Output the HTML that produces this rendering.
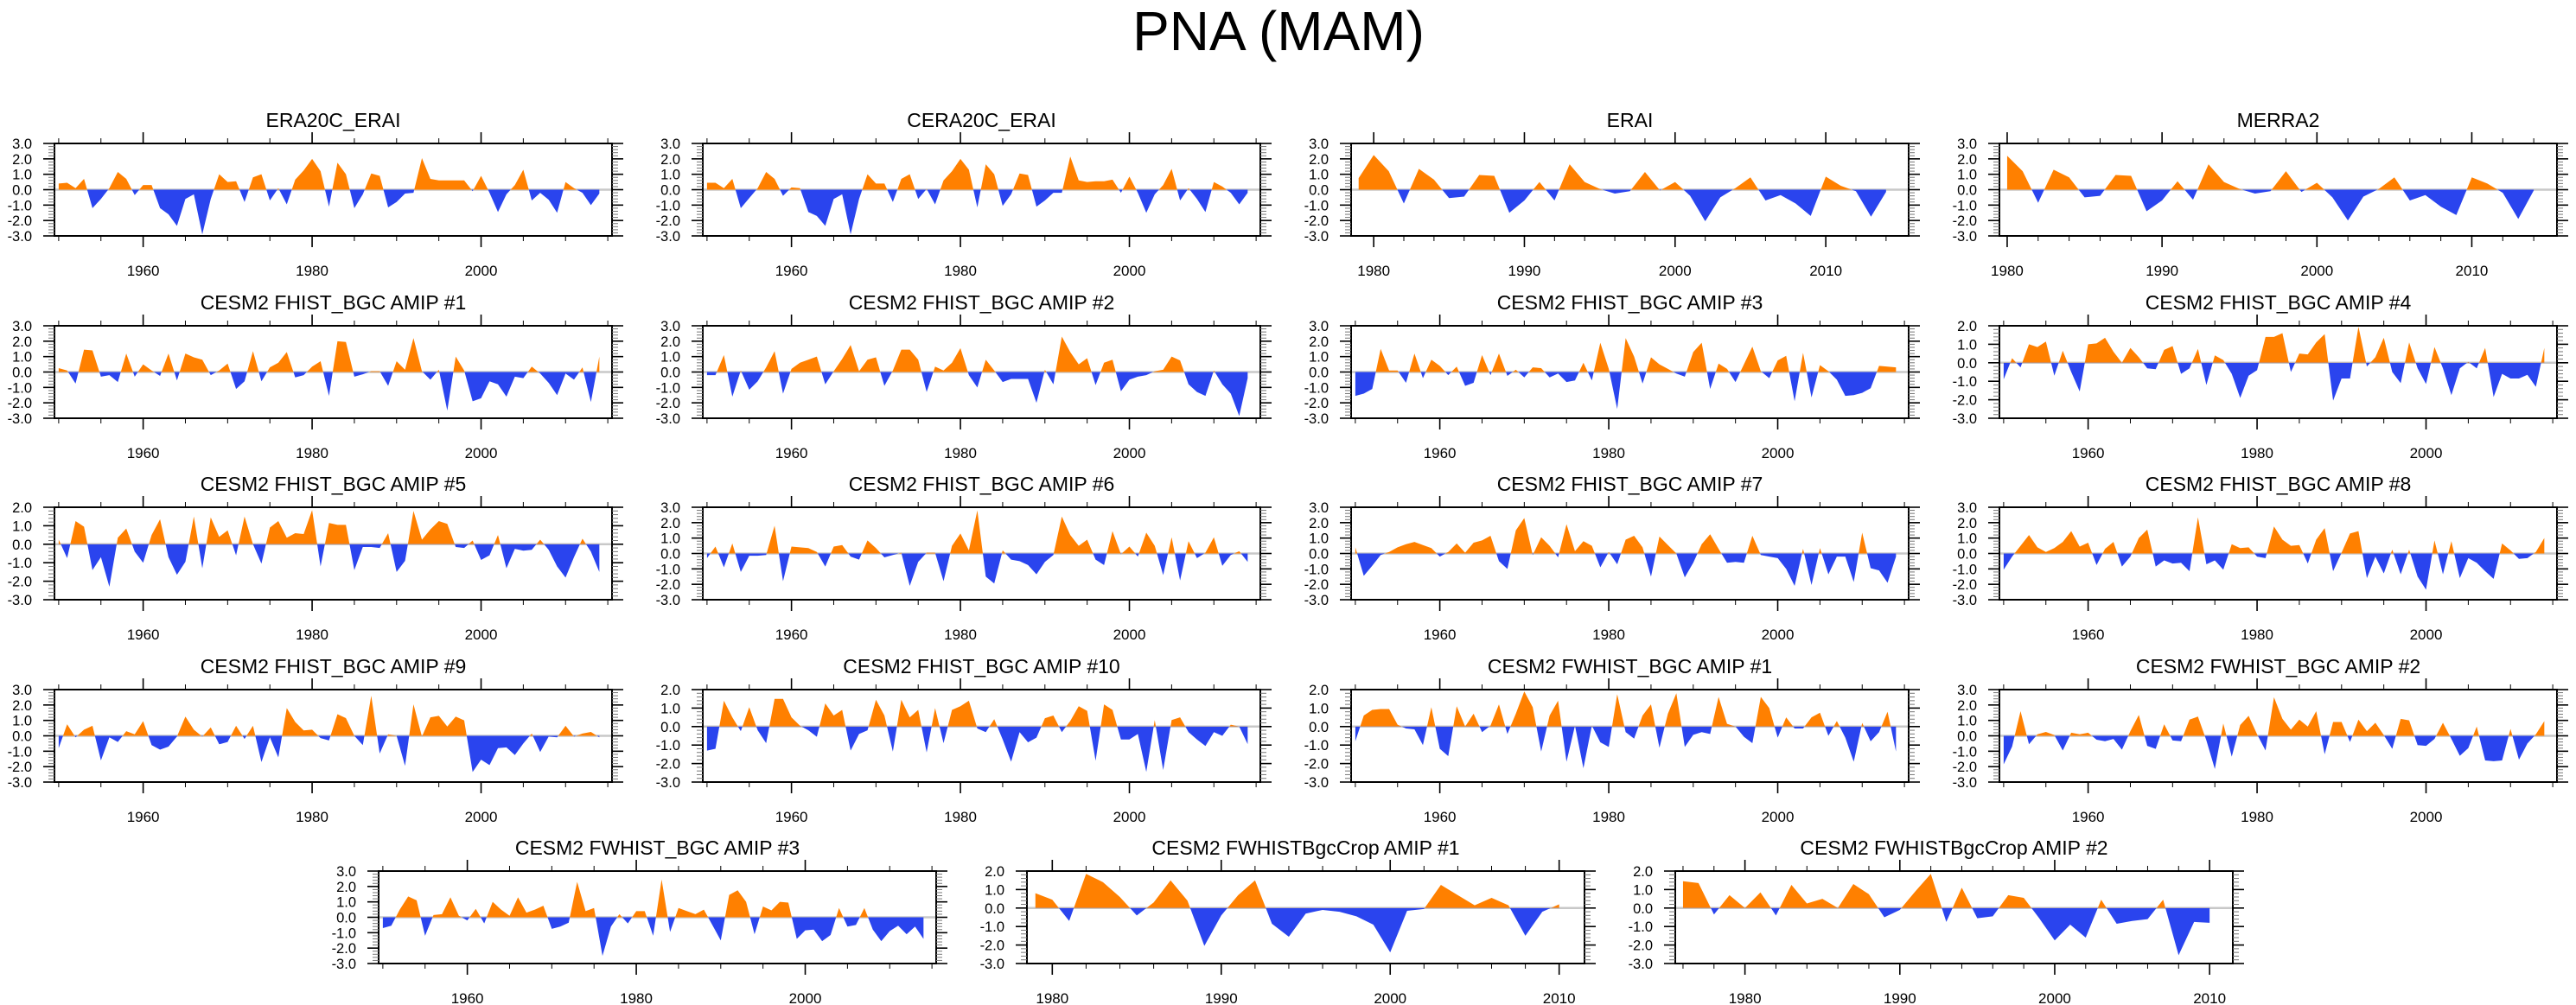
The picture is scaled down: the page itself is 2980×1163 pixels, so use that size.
<!DOCTYPE html>
<html><head><meta charset="utf-8"><title>PNA (MAM)</title>
<style>
html,body{margin:0;padding:0;background:#fff;}
svg{display:block;font-family:"Liberation Sans",Arial,sans-serif;}
</style></head>
<body>
<svg id="fig" width="2980" height="1163" viewBox="0 0 2980 1163" xmlns="http://www.w3.org/2000/svg">
<rect x="0" y="0" width="2980" height="1163" fill="#fff"/>
<text x="1479" y="58" font-size="64" text-anchor="middle" fill="#000">PNA (MAM)</text>
</svg>
<script>
// ---- data (one array per panel) ----
const era20cErai = [0.4,0.45,0.1,0.7,-1.2,-0.6,0.1,1.15,0.7,-0.35,0.3,0.3,-1.2,-1.6,-2.35,-0.6,-0.3,-2.9,-0.6,1.0,0.5,0.55,-0.8,0.8,1.0,-0.7,0.1,-0.95,0.65,1.25,2.0,1.2,-1.1,1.75,1.0,-1.2,-0.3,1.05,0.9,-1.15,-0.8,-0.25,-0.2,2.05,0.7,0.6,0.6,0.6,0.6,-0.1,0.9,-0.2,-1.45,-0.3,0.3,1.3,-0.7,-0.2,-0.65,-1.5,0.5,0.1,-0.2,-1.0,-0.25];
const cera20cErai = [0.45,0.45,0.1,0.7,-1.2,-0.55,0.1,1.15,0.7,-0.4,0.15,0.1,-1.45,-1.7,-2.35,-0.6,-0.3,-2.9,-0.6,1.0,0.4,0.4,-0.8,0.7,1.0,-0.6,0.05,-0.95,0.6,1.2,2.0,1.3,-1.15,1.65,1.0,-1.05,-0.3,1.05,0.95,-1.1,-0.7,-0.2,-0.2,2.15,0.6,0.5,0.55,0.55,0.65,-0.2,0.85,-0.2,-1.5,-0.3,0.3,1.35,-0.7,0.1,-0.6,-1.45,0.5,0.2,-0.2,-0.95,-0.2];
const erai = [0.75,2.25,1.2,-0.9,1.35,0.65,-0.55,-0.45,0.95,0.9,-1.5,-0.7,0.5,-0.7,1.65,0.5,0.05,-0.25,-0.1,1.15,-0.05,0.5,-0.4,-2.05,-0.5,0.1,0.8,-0.7,-0.35,-0.9,-1.7,0.85,0.25,-0.1,-1.75,-0.15];
const merra2 = [2.2,1.2,-0.85,1.3,0.8,-0.5,-0.4,0.95,0.9,-1.4,-0.7,0.55,-0.65,1.65,0.5,0.05,-0.25,-0.1,1.2,-0.15,0.45,-0.5,-2.0,-0.45,0.05,0.8,-0.7,-0.35,-1.1,-1.65,0.8,0.4,-0.2,-1.9,-0.05];
const fhist1 = [0.25,0.1,-0.75,1.45,1.4,-0.3,-0.2,-0.65,1.2,-0.3,0.5,0.1,-0.25,1.2,-0.55,1.2,0.95,0.8,-0.2,0.1,0.55,-1.1,-0.6,1.35,-0.6,0.3,0.6,1.3,-0.35,-0.2,0.35,0.7,-1.55,2.0,1.95,-0.3,-0.15,0.05,0.05,-0.9,0.7,0.15,2.2,0.05,-0.5,0.15,-2.5,1.0,0.1,-1.9,-1.7,-0.6,-0.8,-1.6,-0.3,-0.4,0.35,-0.1,-0.7,-1.5,-0.1,-0.5,0.3,-1.95,1.0];
const fhist2 = [-0.2,-0.2,1.1,-1.6,0.1,-1.15,-0.6,0.3,1.35,-1.4,0.2,0.6,0.8,1.0,-0.8,0.05,0.85,1.75,0.05,0.8,0.95,-0.9,0.1,1.45,1.45,0.8,-1.3,0.35,0.1,0.6,1.55,-0.2,-1.0,0.8,0.1,-0.65,-0.45,-0.45,-0.45,-2.0,0.15,-0.8,2.3,1.3,0.5,0.9,-0.85,0.6,0.8,-1.25,-0.5,-0.3,-0.2,0.05,0.15,1.0,0.75,-0.8,-1.3,-1.55,0.1,-0.8,-1.4,-2.85,-0.4];
const fhist3 = [-1.55,-1.4,-1.1,1.5,0.1,0.1,-0.7,1.2,-0.4,0.8,0.4,-0.2,0.35,-0.9,-0.7,1.1,-0.2,1.2,-0.25,0.15,-0.35,0.3,0.25,-0.35,-0.1,-0.65,-0.55,0.6,-0.55,1.9,0.2,-2.4,2.2,1.0,-0.75,0.95,0.5,0.2,-0.1,-0.3,1.3,1.9,-1.1,0.55,0.2,-0.65,0.5,1.65,0.05,-0.4,0.75,1.05,-1.9,1.25,-1.65,0.45,0.05,-0.5,-1.55,-1.5,-1.35,-1.05,0.4,0.35,0.3];
const fhist4 = [-0.9,0.25,-0.25,1.0,0.85,1.15,-0.7,0.65,-0.5,-1.55,1.0,1.05,1.35,0.6,0.0,0.8,0.3,-0.3,-0.35,0.7,0.9,-0.6,-0.3,0.75,-1.2,0.4,0.15,-0.6,-1.9,-0.7,-0.4,1.4,1.4,1.6,-0.5,0.5,0.45,1.1,1.55,-2.05,-0.85,-0.85,1.95,-0.2,0.3,1.35,-0.5,-1.1,1.1,-0.3,-1.15,0.85,-0.3,-1.75,-0.3,0.05,-0.3,0.8,-1.85,-0.6,-0.85,-0.85,-0.65,-1.3,0.8];
const fhist5 = [0.25,-0.75,1.25,0.95,-1.4,-0.7,-2.3,0.35,0.85,-0.4,-1.0,0.5,1.35,-0.7,-1.65,-0.95,1.5,-1.3,1.45,0.4,0.75,-0.6,1.5,0.0,-1.05,0.9,1.25,0.35,0.6,0.55,1.85,-1.2,1.15,1.05,1.05,-1.4,-0.15,-0.15,-0.2,0.6,-1.5,-0.9,1.8,0.25,0.8,1.25,1.1,-0.15,-0.2,0.2,-0.85,-0.6,0.5,-1.3,-0.25,-0.35,-0.3,0.25,-0.3,-1.2,-1.8,-0.7,0.3,-0.4,-1.5];
const fhist6 = [-0.3,0.45,-0.9,0.65,-1.2,-0.15,-0.15,-0.1,1.8,-1.8,0.45,0.4,0.35,0.1,-0.85,0.45,0.55,-0.2,-0.4,0.85,0.35,-0.25,-0.1,0.05,-2.1,-0.55,0.05,0.05,-1.8,0.5,1.3,0.2,2.8,-1.5,-1.95,0.2,-0.4,-0.5,-0.75,-1.35,-0.55,-0.1,2.4,1.2,0.5,0.9,-0.4,-0.75,1.45,-0.05,0.45,-0.2,1.35,0.5,-1.4,1.05,-1.75,0.8,-0.3,0.05,1.05,-0.8,-0.1,0.15,-0.55];
const fhist7 = [0.4,-1.45,-0.8,-0.1,0.1,0.4,0.6,0.75,0.55,0.35,-0.2,0.1,0.65,0.05,0.7,0.85,1.15,-0.5,-1.0,1.5,2.3,-0.1,1.05,0.5,-0.25,1.9,0.15,0.8,0.5,-0.9,0.1,-0.7,0.9,1.15,0.4,-1.5,1.1,0.55,0.0,-1.55,-0.6,0.6,1.25,0.3,-0.6,-0.55,-0.6,1.15,-0.1,-0.2,-0.3,-1.0,-2.1,0.3,-2.05,0.35,-1.35,-0.2,-0.2,-1.85,1.35,-0.95,-1.1,-1.9,-0.2];
const fhist8 = [-1.05,-0.2,0.5,1.2,0.4,0.1,0.35,0.75,1.45,0.45,0.7,-0.75,0.3,0.75,-0.85,-0.2,1.0,1.55,-0.85,-0.45,-0.65,-0.6,-1.15,2.35,-0.7,-0.45,-1.05,0.6,0.35,0.4,-0.2,-0.3,1.75,0.9,0.5,0.55,-0.65,0.9,1.65,-1.15,0.05,1.3,1.45,-1.6,-0.2,-1.3,0.25,-1.35,0.25,-1.5,-2.35,0.85,-1.35,0.8,-1.6,-0.3,-0.6,-1.15,-1.65,0.65,0.2,-0.35,-0.3,0.1,1.0];
const fhist9 = [-0.8,0.75,-0.1,0.4,0.65,-1.6,-0.1,-0.4,0.3,0.1,0.95,-0.6,-0.9,-0.7,-0.05,1.25,0.4,-0.05,0.55,-0.55,-0.4,0.65,-0.2,0.65,-1.7,-0.1,-1.4,1.8,0.9,0.35,0.4,-0.15,-0.3,1.4,1.15,0.0,-0.6,2.6,-1.15,0.1,0.0,-1.95,2.05,-0.05,1.2,1.3,0.6,1.25,1.0,-2.35,-1.55,-1.9,-0.8,-0.75,-1.25,-0.5,0.15,-1.05,-0.05,-0.1,0.65,-0.05,0.15,0.25,-0.1];
const fhist10 = [-1.3,-1.2,1.4,0.5,-0.25,1.05,-0.2,-0.9,1.5,1.5,0.5,0.05,-0.2,-0.55,1.25,0.6,0.9,-1.3,-0.4,-0.2,1.45,0.6,-1.35,1.45,0.5,0.9,-1.4,1.0,-0.9,0.9,1.1,1.4,-0.1,-0.3,0.4,-0.7,-1.9,-0.3,-0.85,-0.6,0.45,0.6,-0.3,0.3,1.1,0.85,-1.85,1.2,0.9,-0.7,-0.7,-0.4,-2.45,0.35,-2.35,0.35,0.5,-0.3,-0.7,-1.05,-0.3,-0.5,0.1,0.0,-0.95];
const fwhist1 = [-0.8,0.6,0.9,0.95,0.95,0.1,-0.1,-0.15,-1.0,1.05,-1.2,-1.6,1.1,0.0,0.7,-0.3,0.05,1.2,-0.4,0.7,1.9,1.05,-1.35,0.6,1.4,-1.9,0.05,-2.25,0.05,-0.85,-1.1,1.75,-0.3,-0.65,0.6,1.2,-1.15,0.7,1.8,-1.1,-0.45,-0.3,-0.4,1.6,0.15,0.0,-0.55,-0.9,1.6,1.0,-0.6,0.5,-0.1,-0.1,0.5,0.75,-0.5,0.3,-0.6,-1.9,0.2,-0.8,-0.3,0.8,-1.35];
const fwhist2 = [-1.85,-0.7,1.6,-0.55,0.1,0.25,0.05,-0.95,0.2,0.1,0.2,-0.25,-0.35,-0.2,-0.9,0.3,1.35,-0.65,-0.85,0.75,-0.3,-0.35,1.05,1.25,-0.3,-2.15,0.8,-1.35,0.7,1.3,0.1,-0.95,2.5,1.1,0.4,1.05,0.6,1.6,-1.2,0.9,0.9,-0.4,1.05,0.3,0.85,0.05,-0.85,1.1,1.0,-0.6,-0.65,-0.2,0.85,-0.2,-1.3,-0.8,0.6,-1.6,-1.65,-1.6,0.45,-1.55,-0.5,0.1,0.95];
const fwhist3 = [-0.7,-0.55,0.5,1.35,1.1,-1.2,0.15,0.2,1.3,0.1,-0.2,0.55,-0.4,1.0,0.5,0.1,1.3,0.3,0.5,0.75,-0.75,-0.6,-0.35,2.3,0.4,0.6,-2.5,-0.6,0.2,-0.4,0.4,0.4,-1.2,2.45,-0.95,0.6,0.4,0.2,0.5,-0.5,-1.5,1.45,1.75,1.0,-1.1,0.7,0.45,1.0,0.95,-1.4,-0.85,-0.8,-1.55,-1.15,0.6,-0.6,-0.5,0.6,-0.8,-1.55,-0.9,-0.55,-1.1,-0.6,-1.4];
const bgcCrop1 = [0.8,0.45,-0.7,1.85,1.4,0.6,-0.4,0.3,1.5,0.4,-2.05,-0.4,0.7,1.5,-0.85,-1.55,-0.3,-0.1,-0.2,-0.45,-0.9,-2.4,-0.15,-0.05,1.25,0.7,0.15,0.55,0.15,-1.5,-0.2,0.2];
const bgcCrop2 = [1.45,1.35,-0.35,0.7,0.0,0.85,-0.4,1.25,0.25,0.5,0.0,1.3,0.75,-0.5,-0.1,0.9,1.85,-0.75,1.1,-0.55,-0.45,0.7,0.55,-0.55,-1.75,-0.9,-1.6,0.45,-0.85,-0.7,-0.6,0.45,-2.55,-0.75,-0.8];

const panelTitles = ["ERA20C_ERAI","CERA20C_ERAI","ERAI","MERRA2",
 "CESM2 FHIST_BGC AMIP #1","CESM2 FHIST_BGC AMIP #2","CESM2 FHIST_BGC AMIP #3","CESM2 FHIST_BGC AMIP #4",
 "CESM2 FHIST_BGC AMIP #5","CESM2 FHIST_BGC AMIP #6","CESM2 FHIST_BGC AMIP #7","CESM2 FHIST_BGC AMIP #8",
 "CESM2 FHIST_BGC AMIP #9","CESM2 FHIST_BGC AMIP #10","CESM2 FWHIST_BGC AMIP #1","CESM2 FWHIST_BGC AMIP #2",
 "CESM2 FWHIST_BGC AMIP #3","CESM2 FWHISTBgcCrop AMIP #1","CESM2 FWHISTBgcCrop AMIP #2"];
const panelSeries = [era20cErai,cera20cErai,erai,merra2,fhist1,fhist2,fhist3,fhist4,fhist5,fhist6,fhist7,fhist8,fhist9,fhist10,fwhist1,fwhist2,fwhist3,bgcCrop1,bgcCrop2];
const startYears = [1950,1950,1979,1980,1950,1950,1950,1950,1950,1950,1950,1950,1950,1950,1950,1950,1950,1979,1976];
const yMaxValues = [3,3,3,3,3,3,3,2,2,3,3,3,3,2,2,3,3,2,2];
const yMinValue = -3;

// ---- layout ----
const NS="http://www.w3.org/2000/svg";
const svg=document.getElementById('fig');
const PW=645, PH=107;
const colLefts=[63,813,1563,2313], rowTops=[166,377,587,798,1008], row5Lefts=[438,1188,1938];

function mk(tag,attrs,parent){const e=document.createElementNS(NS,tag);for(const k in attrs)e.setAttribute(k,attrs[k]);(parent||svg).appendChild(e);return e;}

panelSeries.forEach((vals,i)=>{
  const row = i<16 ? Math.floor(i/4) : 4;
  const left = i<16 ? colLefts[i%4] : row5Lefts[i-16];
  const top = rowTops[row];
  const start=startYears[i], n=vals.length;
  const x0=start-0.5, x1=start+n-1+1.5;
  const yMax=yMaxValues[i], yMin=yMinValue;
  const xs=y=>left+(y-x0)/(x1-x0)*PW;
  const ys=v=>top+(yMax-v)/(yMax-yMin)*PH;
  const g=mk('g',{});
  
  

  const title=mk('text',{x:left+PW/2,y:top-19,'font-size':23,'text-anchor':'middle',fill:'#000'},g);
  title.textContent=panelTitles[i];
  
  

  const y0=ys(0);
  const zl=mk('line',{x1:left,x2:left+PW,y1:y0,y2:y0,stroke:'#c8c8c8','stroke-width':2.5},g);
  
  

  const cpA=mk('clipPath',{id:'ca'+i},g);
  mk('rect',{x:left,y:top,width:PW,height:y0-top},cpA);
  const cpB=mk('clipPath',{id:'cb'+i},g);
  mk('rect',{x:left,y:y0,width:PW,height:top+PH-y0},cpB);
  let d='M'+xs(start).toFixed(2)+','+y0.toFixed(2);
  vals.forEach((v,k)=>{d+=' L'+xs(start+k).toFixed(2)+','+ys(v).toFixed(2);});
  d+=' L'+xs(start+n-1).toFixed(2)+','+y0.toFixed(2)+' Z';
  const pos=mk('path',{d:d,fill:'#ff8000','clip-path':'url(#ca'+i+')'},g);
  
  
  const neg=mk('path',{d:d,fill:'#2a44ee','clip-path':'url(#cb'+i+')'},g);
  
  

  const box=mk('rect',{x:left,y:top,width:PW,height:PH,fill:'none',stroke:'#000','stroke-width':2},g);
  
  

  for(let t=yMin*5;t<=yMax*5;t++){
    const v=t/5, yy=ys(v), major=(t%5===0);
    const L=major?13:7, sw=major?1.6:1, col=major?'#000':'#777';
    mk('line',{x1:left-L,x2:left,y1:yy,y2:yy,stroke:col,'stroke-width':sw},g);
    mk('line',{x1:left+PW,x2:left+PW+L,y1:yy,y2:yy,stroke:col,'stroke-width':sw},g);
    if(major){
      const tl=mk('text',{x:left-26,y:yy+6,'font-size':16.5,'text-anchor':'end',fill:'#000'},g);
      tl.textContent=v.toFixed(1);
      
      
    }
  }
  const long=(x1-x0)>50;
  const minorStep=long?5:2, majorStep=long?20:10;
  for(let yr=Math.ceil(x0);yr<=x1;yr++){
    if(yr%minorStep!==0)continue;
    const xx=xs(yr), major=(yr%majorStep===0);
    const L=major?13:6;
    mk('line',{x1:xx,x2:xx,y1:top-L,y2:top,stroke:'#000','stroke-width':major?1.6:1},g);
    mk('line',{x1:xx,x2:xx,y1:top+PH,y2:top+PH+L,stroke:'#000','stroke-width':major?1.6:1},g);
    if(major){
      const xl=mk('text',{x:xx,y:top+PH+46,'font-size':17,'text-anchor':'middle',fill:'#000'},g);
      xl.textContent=String(yr);
      
      
    }
  }
});
</script>
</body></html>
